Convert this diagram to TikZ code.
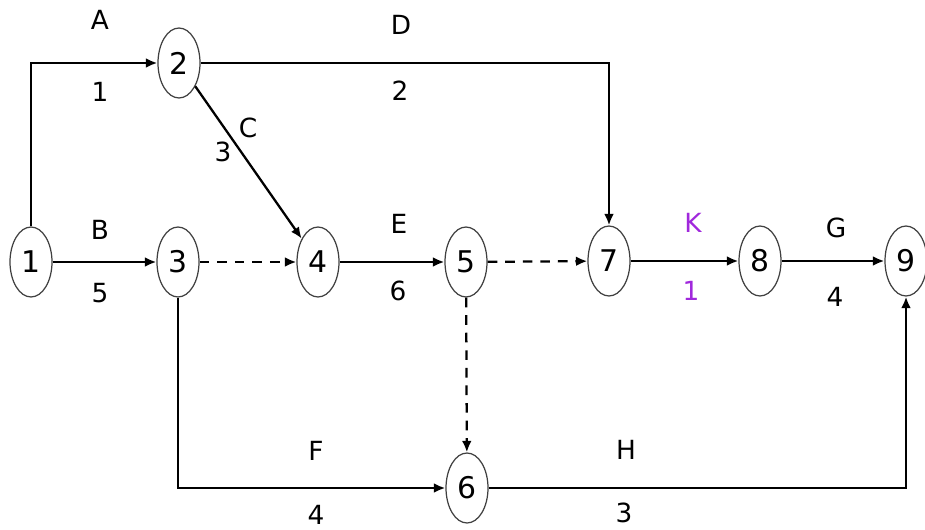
\documentclass[tikz,border=0pt]{standalone}
\usepackage{fontspec}
\setmainfont{DejaVu Sans}
\usetikzlibrary{shapes.geometric,arrows.meta}

\definecolor{kpurple}{RGB}{160,40,220}

\begin{document}
\begin{tikzpicture}[x=0.02cm, y=-0.02cm,
    ev/.style={draw=black!75, line width=0.7pt, ellipse, minimum width=0.84cm, minimum height=1.4cm, inner sep=0pt, font=\fontsize{17}{17}\selectfont},
    act/.style={line width=1.3pt, -{Latex[length=6.5pt,width=5.5pt]}},
    dum/.style={act, dash pattern=on 5.5pt off 4.5pt},
    lbl/.style={inner sep=0pt, font=\fontsize{15}{15}\selectfont}]
    \useasboundingbox (0,0) rectangle (925,530);
    % events
    \foreach \n/\x/\y in {1/31/262, 2/179/63, 3/178/262, 4/318/262, 5/466/262, 7/609/261, 8/760/261, 9/906/261, 6/467/488}
        {\node[ev] (n\n) at (\x,\y) {\n};}
    % activities
    \draw[act] (n1) |- (n2);
    \draw[act] (n1) -- (n3);
    \draw[act] (n2) -| (n7);
    \draw[act] (n2) -- (n4);
    \draw[dum] (n3) -- (n4);
    \draw[act] (n4) -- (n5);
    \draw[dum] (n5) -- (n7);
    \draw[dum] (n5) -- (n6);
    \draw[act] (n3) |- (n6);
    \draw[act] (n7) -- (n8);
    \draw[act] (n8) -- (n9);
    \draw[act] (n6) -| (n9);
    % labels
    \node[lbl] (lA) at (100,20) {A};
    \node[lbl] (dA) at (100,92) {1};
    \node[lbl] (lB) at (100,230) {B};
    \node[lbl] (dB) at (100,293) {5};
    \node[lbl] (lC) at (248,128) {C};
    \node[lbl] (dC) at (223,152) {3};
    \node[lbl] (lD) at (401,25) {D};
    \node[lbl] (dD) at (400,91) {2};
    \node[lbl] (lE) at (399,224) {E};
    \node[lbl] (dE) at (398,291) {6};
    \node[lbl, text=kpurple] (lK) at (693,223) {K};
    \node[lbl, text=kpurple] (dK) at (691,291) {1};
    \node[lbl] (lG) at (836,228) {G};
    \node[lbl] (dG) at (835,297) {4};
    \node[lbl] (lF) at (316,451) {F};
    \node[lbl] (dF) at (316,515) {4};
    \node[lbl] (lH) at (626,450) {H};
    \node[lbl] (dH) at (624,513) {3};
\end{tikzpicture}
\end{document}
